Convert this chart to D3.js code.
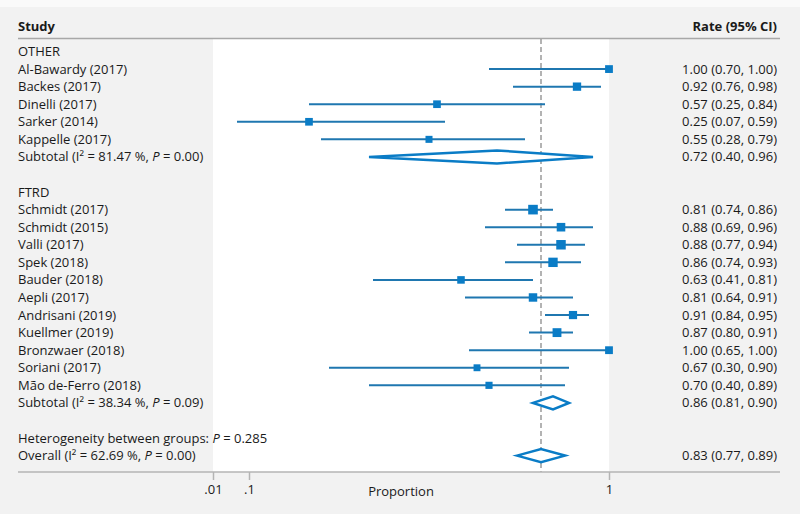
<!DOCTYPE html>
<html><head><meta charset="utf-8">
<script src="https://cdn.jsdelivr.net/npm/d3@7"></script>
<style>body{margin:0;background:#f2f2f2}svg{display:block}text{font-family:"Open Sans",sans-serif;font-size:13px;fill:#1a1a1a}</style>
</head><body><svg id="c" width="800" height="514"></svg>
<script>
// ---- data ----
const groups = ["OTHER", "FTRD"];
const studyNames = [
  ["Al-Bawardy (2017)", "Backes (2017)", "Dinelli (2017)", "Sarker (2014)", "Kappelle (2017)"],
  ["Schmidt (2017)", "Schmidt (2015)", "Valli (2017)", "Spek (2018)", "Bauder (2018)", "Aepli (2017)",
   "Andrisani (2019)", "Kuellmer (2019)", "Bronzwaer (2018)", "Soriani (2017)", "Mão de-Ferro (2018)"]
];
const rate = [[1.00, 0.92, 0.57, 0.25, 0.55], [0.81, 0.88, 0.88, 0.86, 0.63, 0.81, 0.91, 0.87, 1.00, 0.67, 0.70]];
const lower = [[0.70, 0.76, 0.25, 0.07, 0.28], [0.74, 0.69, 0.77, 0.74, 0.41, 0.64, 0.84, 0.80, 0.65, 0.30, 0.40]];
const upper = [[1.00, 0.98, 0.84, 0.59, 0.79], [0.86, 0.96, 0.94, 0.93, 0.81, 0.91, 0.95, 0.91, 1.00, 0.90, 0.89]];
const weight = [[6.0, 6.4, 5.9, 5.9, 5.4], [7.4, 6.6, 7.3, 7.2, 5.8, 6.5, 6.3, 6.8, 6.0, 5.3, 5.5]];
const subI2 = ["81.47", "38.34"];
const subP = ["0.00", "0.09"];
const subRate = [0.72, 0.86], subLower = [0.40, 0.81], subUpper = [0.96, 0.90];
const hetP = "0.285";
const overallI2 = "62.69", overallP = "0.00";
const overallRate = 0.83, overallLower = 0.77, overallUpper = 0.89;
const tickValues = [0.01, 0.1, 1];
const tickLabels = [".01", ".1", "1"];

// ---- layout ----
const svg = d3.select("#c");
const W = 800, H = 514;
const x = d3.scaleLinear().domain([0, 1]).range([209, 609]);
const row0 = 51.5, rowH = 17.57;
const yRow = i => row0 + i * rowH;
const lineCol = "#1f77b0", markCol = "#0a7cc6";
const fmt = d3.format(".2f");
const ci = (r, l, u) => `${fmt(r)} (${fmt(l)}, ${fmt(u)})`;

const rows = [];
let r = 0;
groups.forEach((g, gi) => {
  rows.push({type: "group", label: g, i: r++});
  studyNames[gi].forEach((s, si) => rows.push({type: "study", label: s, i: r++,
    est: rate[gi][si], lo: lower[gi][si], hi: upper[gi][si], w: weight[gi][si]}));
  rows.push({type: "sub", gi, i: r++, est: subRate[gi], lo: subLower[gi], hi: subUpper[gi]});
  r++;
});
const hetRow = r++;
const overallRow = r++;

const axisY = 472, topY = 39;

svg.append("rect").attr("width", W).attr("height", H).attr("fill", "#f2f2f2");
svg.append("rect").attr("width", W).attr("height", 7).attr("fill", "#fafafa");
svg.append("rect").attr("x", x(0.01)).attr("y", topY).attr("width", x(1) - x(0.01)).attr("height", axisY - topY).attr("fill", "#fff");

svg.append("text").attr("x", 18).attr("y", 26.5).attr("dy", "0.35em").style("font-weight", "bold").text("Study");
svg.append("text").attr("x", 777).attr("y", 26.5).attr("dy", "0.35em").attr("text-anchor", "end").style("font-weight", "bold").text("Rate (95% CI)");
svg.append("line").attr("x1", 18).attr("x2", 780).attr("y1", 38.5).attr("y2", 38.5).attr("stroke", "#a8a8a8").attr("stroke-width", 1.5);

svg.append("line").attr("x1", x(overallRate)).attr("x2", x(overallRate)).attr("y1", topY).attr("y2", axisY)
  .attr("stroke", "#9a9a9a").attr("stroke-width", 1.5).attr("stroke-dasharray", "5,3");

function labelWithStats(sel, prefix, i2, p) {
  sel.append("tspan").text(prefix + "(I² = " + i2 + " %, ");
  sel.append("tspan").style("font-style", "italic").text("P");
  sel.append("tspan").text(" = " + p + ")");
}

function diamond(y, e, l, u) {
  const h = 6.5;
  svg.append("path").attr("d", `M${x(l)},${y}L${x(e)},${y - h}L${x(u)},${y}L${x(e)},${y + h}Z`)
    .attr("fill", "#fff").attr("stroke", markCol).attr("stroke-width", 2.5);
}

rows.forEach(d => {
  const y = yRow(d.i);
  if (d.type === "group") {
    svg.append("text").attr("x", 18).attr("y", y).attr("dy", "0.35em").text(d.label);
  } else if (d.type === "study") {
    svg.append("text").attr("x", 18).attr("y", y).attr("dy", "0.35em").text(d.label);
    svg.append("line").attr("x1", x(d.lo)).attr("x2", x(d.hi)).attr("y1", y).attr("y2", y)
      .attr("stroke", lineCol).attr("stroke-width", 2);
    const s = d.w * 1.3;
    svg.append("rect").attr("x", x(d.est) - s / 2).attr("y", y - s / 2).attr("width", s).attr("height", s).attr("fill", markCol);
    svg.append("text").attr("x", 777).attr("y", y).attr("dy", "0.35em").attr("text-anchor", "end").text(ci(d.est, d.lo, d.hi));
  } else {
    const t = svg.append("text").attr("x", 18).attr("y", y).attr("dy", "0.35em");
    labelWithStats(t, "Subtotal ", subI2[d.gi], subP[d.gi]);
    diamond(y, d.est, d.lo, d.hi);
    svg.append("text").attr("x", 777).attr("y", y).attr("dy", "0.35em").attr("text-anchor", "end").text(ci(d.est, d.lo, d.hi));
  }
});

const ht = svg.append("text").attr("x", 18).attr("y", yRow(hetRow)).attr("dy", "0.35em");
ht.append("tspan").text("Heterogeneity between groups: ");
ht.append("tspan").style("font-style", "italic").text("P");
ht.append("tspan").text(" = " + hetP);

const ot = svg.append("text").attr("x", 18).attr("y", yRow(overallRow)).attr("dy", "0.35em");
labelWithStats(ot, "Overall ", overallI2, overallP);
diamond(yRow(overallRow), overallRate, overallLower, overallUpper);
svg.append("text").attr("x", 777).attr("y", yRow(overallRow)).attr("dy", "0.35em").attr("text-anchor", "end").text(ci(overallRate, overallLower, overallUpper));

svg.append("line").attr("x1", 18).attr("x2", 780).attr("y1", axisY).attr("y2", axisY).attr("stroke", "#b4b4b4").attr("stroke-width", 1.5);
const ax = svg.append("g").attr("transform", `translate(0,${axisY})`)
  .call(d3.axisBottom(x).tickValues(tickValues).tickFormat((d, i) => tickLabels[i]).tickSize(8).tickPadding(5));
ax.select(".domain").remove();
ax.selectAll(".tick line").attr("stroke", "#b4b4b4").attr("stroke-width", 1.5);
ax.selectAll(".tick text").style("font-family", '"Open Sans",sans-serif').style("font-size", "13px").attr("fill", "#1a1a1a");
svg.append("text").attr("x", 401).attr("y", 491).attr("dy", "0.35em").attr("text-anchor", "middle").text("Proportion");
</script></body></html>
